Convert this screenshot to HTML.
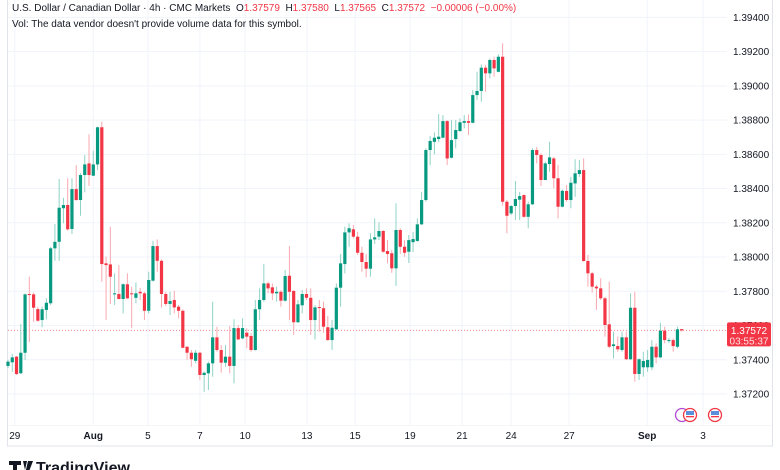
<!DOCTYPE html>
<html><head><meta charset="utf-8">
<style>
html,body{margin:0;padding:0;background:#fff;}
body{width:780px;height:470px;overflow:hidden;position:relative;font-family:"Liberation Sans","DejaVu Sans",sans-serif;}
svg{position:absolute;left:0;top:0;}
.hdr{position:absolute;left:12px;font-size:10px;color:#131722;white-space:nowrap;}
.r{color:#f23645;}
</style></head><body>
<svg id="chart" width="780" height="470" viewBox="0 0 780 470"></svg>
<div class="hdr" style="top:3px">U.S. Dollar / Canadian Dollar · 4h · CMC Markets &nbsp;O<span class="r">1.37579</span> &nbsp;H<span class="r">1.37580</span> &nbsp;L<span class="r">1.37565</span> &nbsp;C<span class="r">1.37572</span> &nbsp;<span class="r">−0.00006 (−0.00%)</span></div>
<div class="hdr" style="top:19px">Vol: The data vendor doesn't provide volume data for this symbol.</div>
<script>
const opens=[1.37364,1.37385,1.37418,1.37321,1.37441,1.37784,1.37782,1.37696,1.37632,1.37691,1.3773,1.38051,1.38089,1.38285,1.38304,1.38164,1.38397,1.38333,1.38479,1.38547,1.38475,1.38541,1.38758,1.37963,1.37957,1.37782,1.37784,1.37755,1.37841,1.37788,1.37762,1.37797,1.37788,1.37686,1.37862,1.38064,1.37978,1.37784,1.37726,1.37749,1.3771,1.37686,1.37476,1.37441,1.37394,1.37441,1.37311,1.37321,1.37379,1.37531,1.37457,1.37383,1.37418,1.37364,1.37585,1.37525,1.37558,1.37539,1.37457,1.37695,1.37749,1.37846,1.37823,1.37788,1.37797,1.37745,1.37891,1.37802,1.37619,1.37718,1.37784,1.37762,1.37632,1.37708,1.37701,1.3759,1.37515,1.37578,1.37821,1.37959,1.38144,1.38162,1.38119,1.38025,1.37971,1.37932,1.38103,1.38119,1.38152,1.38035,1.38022,1.37934,1.38158,1.3806,1.38031,1.38087,1.38094,1.38191,1.38333,1.38625,1.38673,1.38689,1.38697,1.38794,1.3858,1.38689,1.38736,1.38784,1.38794,1.38784,1.38946,1.3897,1.39106,1.39073,1.39151,1.39082,1.3917,1.38323,1.38255,1.38298,1.38335,1.38362,1.38235,1.38308,1.38625,1.38596,1.3845,1.38543,1.38576,1.3846,1.38294,1.38386,1.38333,1.3843,1.38485,1.38508,1.37977,1.37905,1.37827,1.37817,1.37759,1.37607,1.3748,1.3748,1.37457,1.37531,1.37403,1.37704,1.37317,1.37356,1.37356,1.37356,1.37476,1.37414,1.3757,1.3751,1.37515,1.37476,1.37579];
const highs=[1.37399,1.37434,1.37422,1.37609,1.37788,1.37885,1.37792,1.3771,1.3771,1.37759,1.3806,1.38193,1.38456,1.38346,1.3846,1.3846,1.38537,1.38489,1.38596,1.38717,1.38621,1.38761,1.3879,1.38002,1.38177,1.37905,1.37953,1.37846,1.37905,1.37827,1.37852,1.37819,1.37797,1.37914,1.38095,1.38103,1.37987,1.37797,1.37797,1.37803,1.3772,1.37695,1.3748,1.37457,1.37457,1.37447,1.3733,1.37389,1.37739,1.37593,1.37486,1.37486,1.37597,1.37636,1.37603,1.37642,1.37584,1.37554,1.37749,1.37817,1.37959,1.37856,1.37846,1.37827,1.37807,1.37924,1.38064,1.37807,1.37749,1.37807,1.37817,1.37817,1.3772,1.37749,1.37739,1.37656,1.37632,1.37846,1.38018,1.38177,1.38197,1.38187,1.38148,1.3806,1.38018,1.38139,1.38226,1.38203,1.38158,1.38099,1.38041,1.38314,1.38168,1.38099,1.38129,1.38146,1.38226,1.38381,1.38635,1.38708,1.38728,1.38835,1.38829,1.388,1.388,1.388,1.3881,1.38829,1.38833,1.38975,1.39082,1.39125,1.39121,1.3916,1.3917,1.39184,1.39248,1.38333,1.38304,1.38444,1.38381,1.38366,1.38323,1.38635,1.38644,1.38606,1.38557,1.38673,1.38586,1.38537,1.38395,1.38421,1.38469,1.38571,1.38567,1.38576,1.38012,1.37914,1.37837,1.37876,1.37768,1.37856,1.37564,1.37535,1.37564,1.37564,1.37788,1.37797,1.37408,1.37447,1.37457,1.37515,1.37496,1.37616,1.37593,1.37527,1.37525,1.37593,1.3758];
const lows=[1.37352,1.3733,1.37311,1.37317,1.37399,1.37504,1.37622,1.37622,1.3759,1.37636,1.3772,1.37978,1.37978,1.38197,1.38154,1.38134,1.38329,1.38241,1.38378,1.38415,1.38473,1.38508,1.37856,1.37632,1.37726,1.3772,1.37753,1.37671,1.37755,1.37584,1.3773,1.37749,1.37632,1.37671,1.37856,1.37914,1.37706,1.37714,1.37661,1.37671,1.37642,1.37467,1.37399,1.37359,1.37379,1.37282,1.37213,1.37223,1.37301,1.37447,1.37324,1.37359,1.37321,1.37262,1.37515,1.37519,1.37467,1.37447,1.37453,1.37632,1.37739,1.37788,1.37749,1.37739,1.3771,1.37739,1.37632,1.37545,1.37616,1.37671,1.37749,1.37545,1.37519,1.37564,1.37558,1.37511,1.37457,1.37574,1.3771,1.37905,1.3806,1.38109,1.38012,1.37914,1.37882,1.37885,1.38076,1.38099,1.38025,1.37963,1.37908,1.37831,1.38018,1.38002,1.37965,1.38029,1.38089,1.38187,1.38323,1.38537,1.386,1.38673,1.38693,1.38537,1.38576,1.38635,1.38732,1.38752,1.38713,1.38781,1.38917,1.38907,1.38965,1.39044,1.39053,1.39079,1.383,1.38139,1.38245,1.38216,1.38216,1.3823,1.38168,1.38304,1.38547,1.38415,1.38449,1.38498,1.38401,1.38226,1.3829,1.38323,1.38285,1.38352,1.38469,1.37973,1.37827,1.37792,1.37691,1.37749,1.37535,1.37467,1.37408,1.37447,1.37447,1.37399,1.37399,1.37272,1.37282,1.37301,1.3733,1.3734,1.37379,1.37408,1.37496,1.37498,1.37447,1.37467,1.37565];
const closes=[1.37389,1.37414,1.37317,1.37441,1.37782,1.37778,1.37704,1.37628,1.37695,1.37733,1.38051,1.38089,1.38288,1.38304,1.38162,1.38397,1.38333,1.38479,1.38541,1.38479,1.38541,1.38758,1.37959,1.37953,1.37885,1.37788,1.37755,1.37841,1.37759,1.37782,1.37788,1.37788,1.37686,1.37866,1.38064,1.37978,1.37784,1.37726,1.37743,1.37706,1.37686,1.3747,1.37441,1.37403,1.37441,1.37311,1.37324,1.37379,1.37531,1.37457,1.37383,1.37418,1.37364,1.37585,1.37519,1.37585,1.37535,1.37457,1.37695,1.37749,1.37846,1.37817,1.37788,1.37797,1.37745,1.37889,1.37797,1.37619,1.37724,1.37784,1.37762,1.37632,1.37706,1.37702,1.37593,1.37515,1.37587,1.37821,1.37963,1.38144,1.38168,1.38119,1.38025,1.37971,1.37932,1.38103,1.38115,1.38152,1.38031,1.38018,1.37934,1.38158,1.3806,1.38025,1.38099,1.38105,1.38191,1.38333,1.38625,1.38678,1.38697,1.38703,1.38794,1.38576,1.38683,1.38742,1.38787,1.38794,1.38784,1.38946,1.3897,1.39106,1.39073,1.39151,1.39102,1.3917,1.38323,1.38241,1.38298,1.38339,1.38356,1.38235,1.38308,1.38625,1.38596,1.3845,1.38547,1.38582,1.3846,1.38294,1.38387,1.38333,1.38434,1.38489,1.38508,1.37977,1.37905,1.37827,1.37817,1.37759,1.37603,1.37476,1.3749,1.37461,1.37531,1.37403,1.37704,1.37317,1.37403,1.37393,1.37399,1.37476,1.37414,1.3757,1.37515,1.37515,1.3748,1.37578,1.37572];
const priceTicks=[1.394,1.392,1.390,1.388,1.386,1.384,1.382,1.380,1.378,1.376,1.374,1.372];
const dateLabels=["29","Aug","5","7","10","13","15","19","21","24","27","Sep","3"];
const dateIdx=[1.6,20,32.8,45,55.6,70.1,81.4,94.3,106.5,118,131.6,149.9,163];
const boldDates=["Aug","Sep"];
const lastPrice=1.37572;

const NS="http://www.w3.org/2000/svg";
const svg=document.getElementById('chart');
const X=i=>8+i*4.264;
const Y=p=>394-(p-1.372)*17120;
function mk(tag,attrs,parent){const e=document.createElementNS(NS,tag);for(const k in attrs)e.setAttribute(k,attrs[k]);(parent||svg).appendChild(e);return e;}

const fr=mk('rect',{x:7.5,y:-1,width:765,height:447,fill:'none',stroke:'#e0e3eb','stroke-width':1});



priceTicks.forEach(p=>{
  const g=mk('line',{x1:8,x2:727,y1:Y(p),y2:Y(p),stroke:'#f0f3fa','stroke-width':1});
  
  
  const t=mk('text',{x:733,y:Y(p)+3.5,'font-size':'10',fill:'#131722'});
  t.textContent=p.toFixed(5);
  
  
});
dateLabels.forEach((d,k)=>{
  const x=X(dateIdx[k]);
  const g=mk('line',{x1:x,x2:x,y1:0,y2:425,stroke:'#f0f3fa','stroke-width':1});
  
  
  const t=mk('text',{x:x,y:439,'font-size':'10','text-anchor':'middle',fill:'#131722','font-weight':boldDates.includes(d)?'bold':'normal'});
  t.textContent=d;
  
  
});
const sep=mk('line',{x1:8,x2:772,y1:425.5,y2:425.5,stroke:'#f5f5f5','stroke-width':1});



const pl=mk('line',{x1:8,x2:727,y1:Y(lastPrice),y2:Y(lastPrice),stroke:'#f23645','stroke-width':1,'stroke-dasharray':'1 2',opacity:0.6});



closes.forEach((c,i)=>{
  const o=opens[i],h=highs[i],l=lows[i];
  const up=c>=o;const col=up?'#089981':'#f23645';const x=X(i);
  const g=mk('g',{});
  
  
  mk('line',{x1:x,x2:x,y1:Y(h),y2:Y(l),stroke:up?'#8fd3c6':'#f9a8b0','stroke-width':1},g);
  const top=Y(Math.max(o,c)),bot=Y(Math.min(o,c));
  mk('rect',{x:x-1.6,y:top,width:3.2,height:Math.max(1,bot-top),fill:col},g);
});

const ly=Y(lastPrice);
const lb=mk('g',{});


mk('rect',{x:727,y:ly-8,width:44,height:24,rx:2,fill:'#f23645'},lb);
const t1=mk('text',{x:749,y:ly+3.5,'font-size':'10','text-anchor':'middle',fill:'#fff'},lb);t1.textContent=lastPrice.toFixed(5);
const t2=mk('text',{x:749,y:ly+14,'font-size':'10','text-anchor':'middle',fill:'#fde2e4'},lb);t2.textContent='03:55:37';

[[682,'#b04bd6'],[690,'#f23645'],[715,'#f23645']].forEach(([cx,c])=>{
  const e=mk('g',{});
  
  
  mk('circle',{cx:cx,cy:415,r:6.5,fill:'#fff',stroke:c,'stroke-width':1.3},e);
  if(c!=='#b04bd6'){mk('rect',{x:cx-4,y:411,width:8,height:4,fill:'#5b8fd9'},e);mk('rect',{x:cx-4,y:416,width:8,height:1.3,fill:'#f23645'},e);}
});

const lg=mk('g',{});


mk('path',{d:'M9 461h12v4h-4v9h-4v-9h-4z M23 461h4l-2 9z M28 461h5l-5 13h-3z',fill:'#131722'},lg);
const lt=mk('text',{x:36,y:473,'font-size':'16','font-weight':'bold',fill:'#131722'},lg);lt.textContent='TradingView';
</script>
</body></html>
